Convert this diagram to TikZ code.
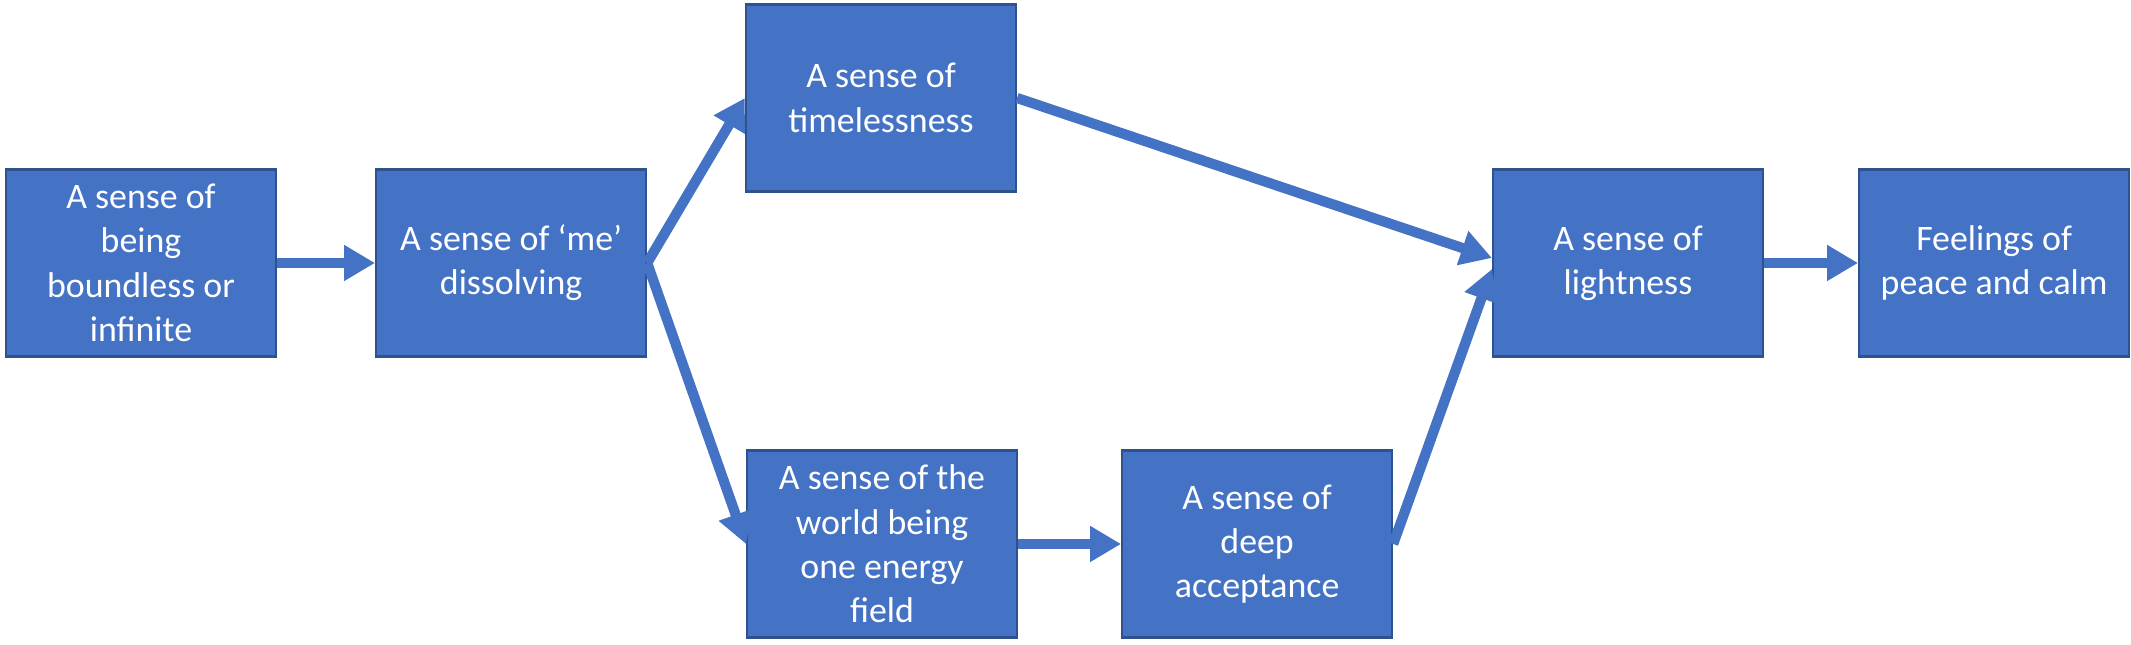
\documentclass[tikz,border=0pt]{standalone}
\usepackage{fontspec}
\setmainfont{Carlito}
\usepackage{tikz}
\usetikzlibrary{arrows.meta,positioning}
\definecolor{boxblue}{HTML}{4472C4}
\definecolor{edgeblue}{HTML}{2F528F}
\tikzset{
    stage/.style={
                draw=edgeblue,
                line width=0.6pt,
                fill=boxblue,
                text=white,
                text centered,
                align=center,
                minimum width=2.7cm,
                minimum height=1.87cm,
                inner sep=0pt,
                font=\fontsize{10.2}{12.6}\selectfont
            },
        flow/.style={
                draw=boxblue,
                line width=2.9pt,
                -{Triangle[length=0.31cm,width=0.34cm]}
            },
}

\begin{document}
\begin{tikzpicture}[
    node distance=1cm,
  ]
  \useasboundingbox (0,0) rectangle (21.31,6.45);
  % Stages
  \node[stage] (boundless) at (1.41,3.82) {A sense of\\being\\boundless or\\infinite};
  \node[stage, right=0.98cm of boundless] (dissolving) {A sense of `me'\\dissolving};
  \node[stage] (timeless) at (8.81,5.47) {A sense of\\timelessness};
  \node[stage] (energy) at (8.82,1.01) {A sense of the\\world being\\one energy\\field};
  \node[stage, right=1.03cm of energy] (acceptance) {A sense of\\deep\\acceptance};
  \node[stage] (lightness) at (16.28,3.82) {A sense of\\lightness};
  \node[stage, right=0.94cm of lightness] (peace) {Feelings of\\peace and calm};
  % Arrows
  \draw[flow] (boundless) -- (dissolving);
  \draw[flow] (dissolving.east) -- (timeless.west);
  \draw[flow] (dissolving.east) -- (energy.west);
  \draw[flow] (energy) -- (acceptance);
  \draw[flow] (timeless.east) -- ([yshift=0.05cm]lightness.west);
  \draw[flow] (acceptance.east) -- ([yshift=-0.06cm]lightness.west);
  \draw[flow] (lightness) -- (peace);
\end{tikzpicture}
\end{document}
